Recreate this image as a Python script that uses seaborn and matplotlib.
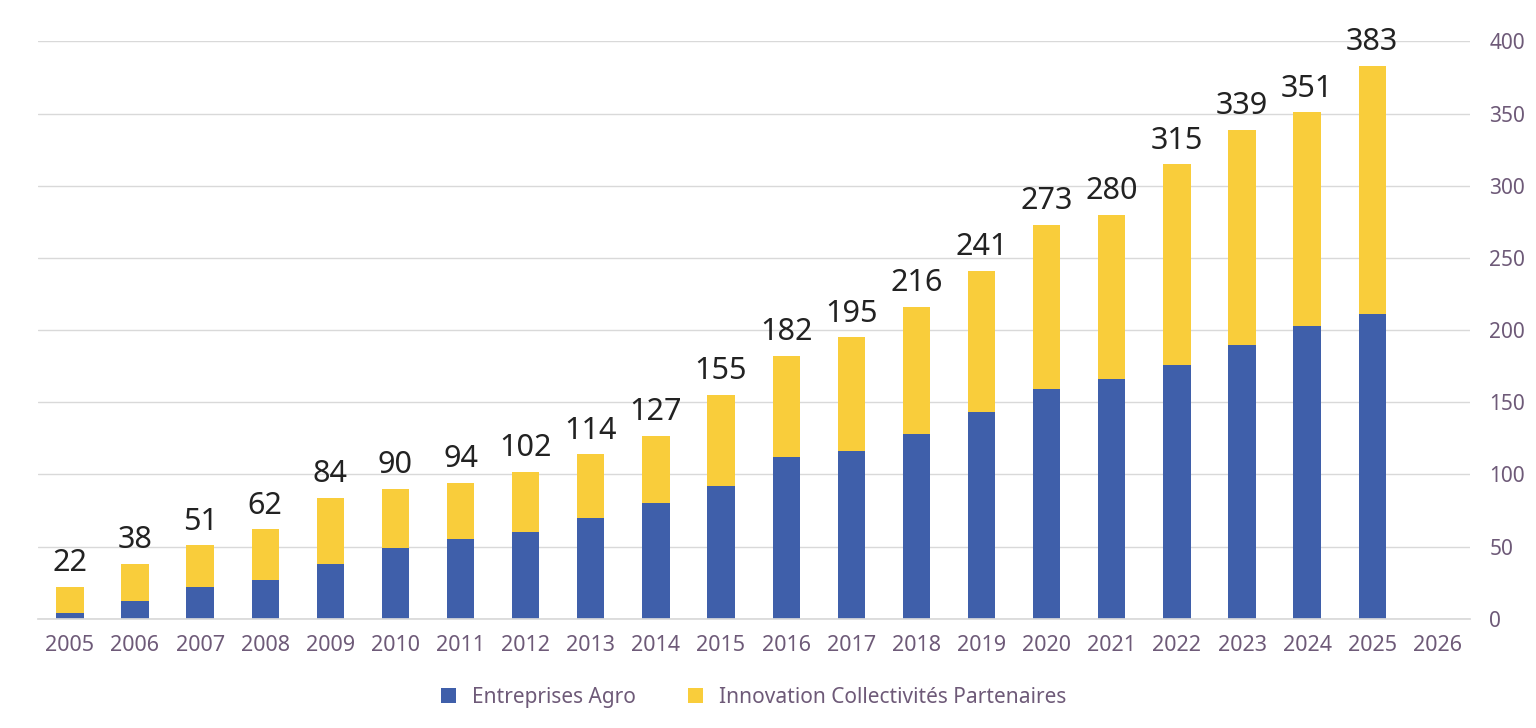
import matplotlib
matplotlib.use("Agg")
import matplotlib.pyplot as plt
import seaborn as sns
import pandas as pd

years = [str(y) for y in range(2005, 2027)]
totals = [22, 38, 51, 62, 84, 90, 94, 102, 114, 127, 155, 182, 195, 216, 241, 273, 280, 315, 339, 351, 383, None]
agro = [4, 12, 22, 27, 38, 49, 55, 60, 70, 80, 92, 112, 116, 128, 143, 159, 166, 176, 190, 203, 211, None]

sns.set_theme(style="white")
plt.rcParams['font.family'] = ['Noto Sans', 'DejaVu Sans']

df = pd.DataFrame({"year": years, "total": totals, "agro": agro})

fig, ax = plt.subplots(figsize=(15.36, 7.28), dpi=100)
fig.subplots_adjust(left=0.0247, right=0.957, top=0.943, bottom=0.15)

blue = "#3f5faa"
yellow = "#f9cd3b"
sns.barplot(data=df, x="year", y="total", color=yellow, width=0.42, ax=ax, label="Innovation Collectivités Partenaires", saturation=1, linewidth=0)
sns.barplot(data=df, x="year", y="agro", color=blue, width=0.42, ax=ax, label="Entreprises Agro", saturation=1, linewidth=0)

for i, t in enumerate(totals):
    if t is not None:
        ax.text(i, t + 6, str(t), ha="center", va="bottom", fontsize=22, color="#222222")

ax.set_ylim(0, 400)
ax.set_xlim(-0.49, len(years) - 0.5)
ax.yaxis.tick_right()
ax.set_yticks(range(0, 401, 50))
ax.grid(axis="y", color="#d9d9d9", linewidth=1)
ax.set_axisbelow(True)
for s in ["top", "left", "right"]:
    ax.spines[s].set_visible(False)
ax.spines["bottom"].set_color("#d9d9d9")
tc = "#6e5a78"
ax.tick_params(axis="y", labelsize=15, colors=tc, length=0, pad=14)
ax.tick_params(axis="x", labelsize=15.5, colors=tc, length=0, pad=12)
ax.set_xlabel("")
ax.set_ylabel("")

h, l = ax.get_legend_handles_labels()
leg = ax.legend(h[::-1], l[::-1], loc="upper center", bbox_to_anchor=(0.5, -0.085), ncol=2, frameon=False,
                fontsize=15, handlelength=0.7, handleheight=0.7, columnspacing=2.5)
for t in leg.get_texts():
    t.set_color(tc)

fig.savefig("out.png", dpi=100)
